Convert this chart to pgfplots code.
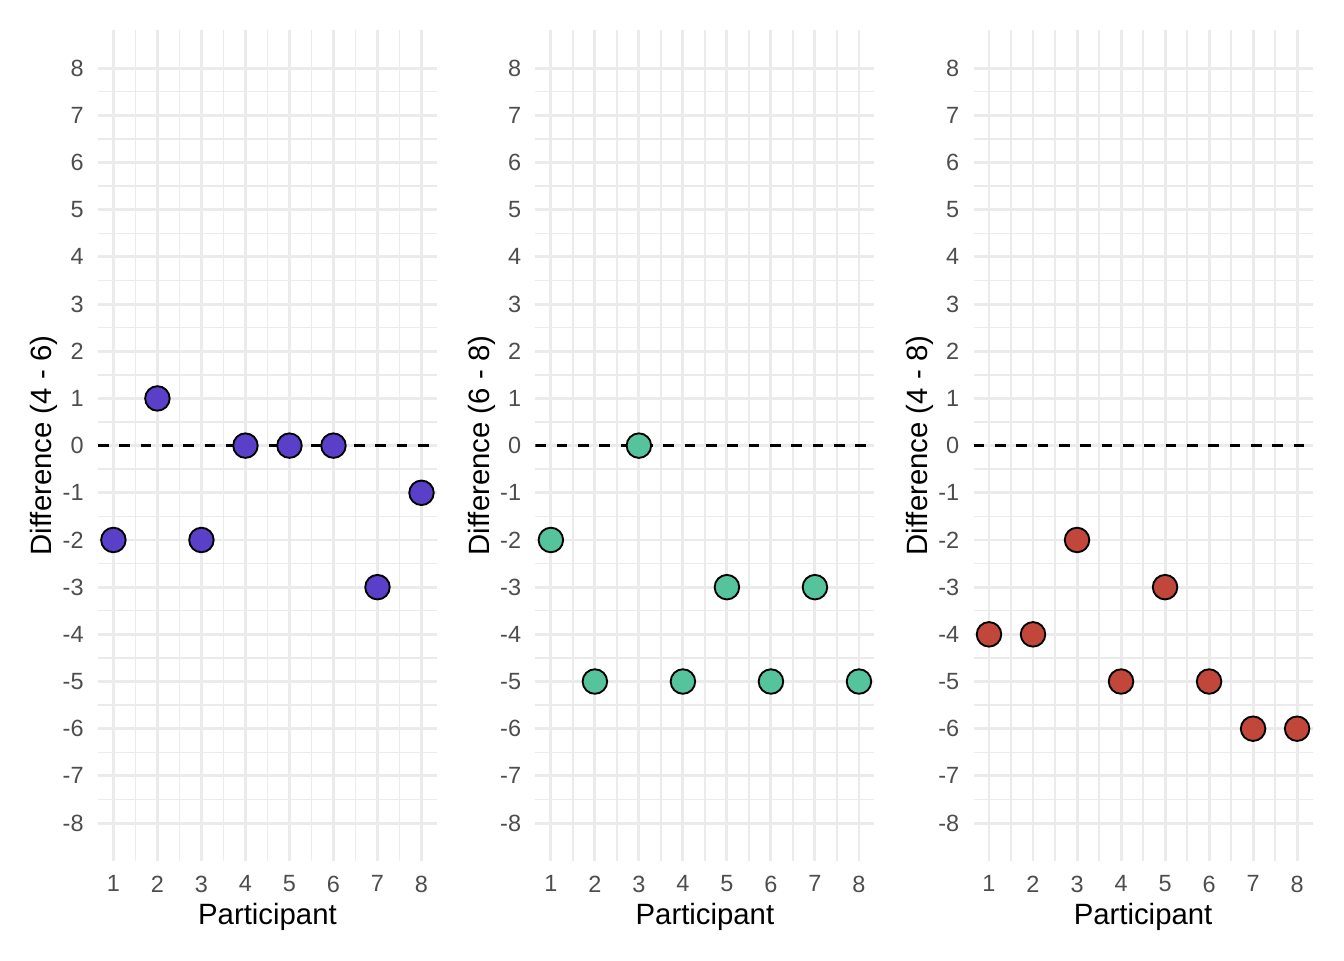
\documentclass[border=0pt]{standalone}
\usepackage{fontspec}
\setmainfont{Liberation Sans}
\usepackage{pgfplots}
\pgfplotsset{compat=1.18}
\definecolor{cpurple}{HTML}{5A40C8}
\definecolor{cgreen}{HTML}{55C39B}
\definecolor{cred}{HTML}{C1473A}
\definecolor{tickgrey}{HTML}{4D4D4D}
\definecolor{gridgrey}{HTML}{EBEBEB}
\pgfplotsset{
  panel/.style={
    scale only axis,
    anchor=south west,
    width=127.1pt, height=311.4pt,
    xmin=0.65, xmax=8.35, ymin=-8.8, ymax=8.8,
    xtick={1,...,8}, ytick={-8,...,8},
    minor x tick num=1, minor y tick num=1,
    grid=both,
    major grid style={gridgrey, line width=1.1pt},
    minor grid style={gridgrey, line width=0.55pt},
    major tick length=0pt, minor tick length=0pt,
    axis line style={draw=none},
    /pgf/number format/assume math mode=true,
    ticklabel style={font=\fontsize{8.8}{10}\selectfont, text=tickgrey, inner sep=0pt},
    yticklabel style={anchor=east, xshift=-5.2pt},
    xticklabel style={anchor=north, yshift=-5.4pt},
    xlabel={Participant},
    ylabel style={at={(axis description cs:0,0.5)}, anchor=north, inner sep=0pt, yshift=25.5pt, font=\fontsize{11}{13}\selectfont},
    xlabel style={at={(axis description cs:0.5,0)}, anchor=north, inner sep=0pt, yshift=-15.6pt, font=\fontsize{11}{13}\selectfont},
  },
  pts/.style={only marks, mark=*, mark size=4.6pt, mark options={draw=black, line width=0.7pt, fill=#1}},
}
\begin{document}
\begin{tikzpicture}
\path[use as bounding box] (0,0) rectangle (504pt,360pt);
\begin{axis}[panel, at={(36.75pt,37.2pt)}, ylabel={Difference (4 - 6)}]
\addplot[black, line width=0.85pt, dash pattern=on 4pt off 4pt] coordinates {(0.65,0) (8.35,0)};
\addplot[pts=cpurple] coordinates {(1,-2) (2,1) (3,-2) (4,0) (5,0) (6,0) (7,-3) (8,-1)};
\end{axis}
\begin{axis}[panel, at={(200.8pt,37.2pt)}, ylabel={Difference (6 - 8)}]
\addplot[black, line width=0.85pt, dash pattern=on 4pt off 4pt] coordinates {(0.65,0) (8.35,0)};
\addplot[pts=cgreen] coordinates {(1,-2) (2,-5) (3,0) (4,-5) (5,-3) (6,-5) (7,-3) (8,-5)};
\end{axis}
\begin{axis}[panel, at={(365.1pt,37.2pt)}, ylabel={Difference (4 - 8)}]
\addplot[black, line width=0.85pt, dash pattern=on 4pt off 4pt] coordinates {(0.65,0) (8.35,0)};
\addplot[pts=cred] coordinates {(1,-4) (2,-4) (3,-2) (4,-5) (5,-3) (6,-5) (7,-6) (8,-6)};
\end{axis}
\end{tikzpicture}
\end{document}
